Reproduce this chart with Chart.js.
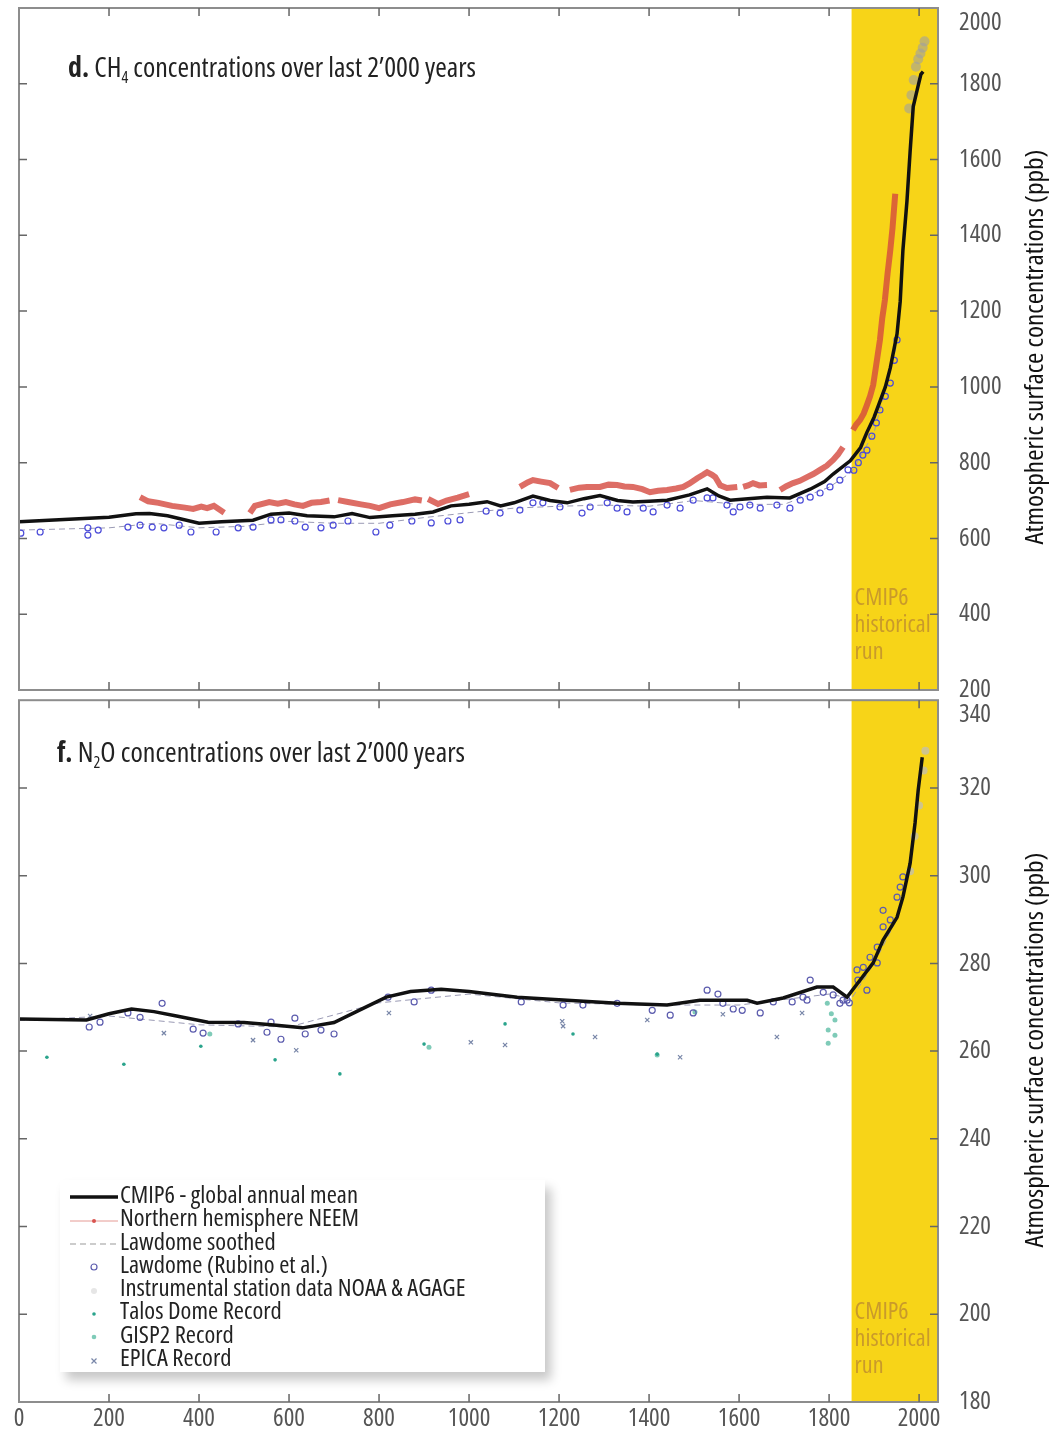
<!DOCTYPE html>
<html>
<head>
<meta charset="utf-8">
<script src="https://cdn.jsdelivr.net/npm/chart.js@4.4.0/dist/chart.umd.min.js"></script>
<style>
  body { margin: 0; background: #fff; width: 1062px; height: 1433px; position: relative; overflow: hidden; }
  #c1 { position: absolute; left: 0; top: 0; }
  #c2 { position: absolute; left: 0; top: 695px; }
  #legend { position: absolute; left: 60px; top: 1180px; width: 485px; height: 192px; background: #fff;
            box-shadow: 6px 8px 10px rgba(0,0,0,0.22); box-sizing: border-box; padding-top: 2px; }
  #legend .row { height: 23.3px; line-height: 23.3px; white-space: nowrap; font-size: 24px; color: #222; }
  #legend svg { vertical-align: middle; margin-left: 10px; margin-right: 2px; }
  #legend span { display: inline-block; transform-origin: 0 50%; }
</style>
</head>
<body>
<canvas id="c1" width="1062" height="715"></canvas>
<canvas id="c2" width="1062" height="738"></canvas>
<div id="legend"></div>
<script>
var FAMILY = '"Open Sans", "Liberation Sans", sans-serif'

// does the installed font stretch? (variable width axis)
var tc = document.createElement('canvas').getContext('2d')
tc.font = '24px ' + FAMILY
var w0 = tc.measureText('Atmospheric 2000').width
tc.font = 'condensed 24px ' + FAMILY
var w1 = tc.measureText('Atmospheric 2000').width
var STRETCH = w1 < w0 * 0.93
var PRE = STRETCH ? 'condensed ' : ''

// axes
var xTicks = [0, 200, 400, 600, 800, 1000, 1200, 1400, 1600, 1800, 2000]
var ch4Ticks = [200, 400, 600, 800, 1000, 1200, 1400, 1600, 1800, 2000]
var n2oTicks = [180, 200, 220, 240, 260, 280, 300, 320, 340]
var bandStart = 1850

// CH4 - CMIP6 global annual mean
var ch4Years = [0, 100, 200, 260, 290, 330, 400, 450, 520, 560, 600, 640, 700, 740, 780, 830, 880, 920, 960, 1000,
  1040, 1070, 1100, 1142, 1180, 1218, 1255, 1291, 1330, 1364, 1400, 1440, 1490, 1529, 1555, 1580, 1620, 1662, 1713,
  1758, 1790, 1809, 1847, 1870, 1884, 1900, 1913, 1925, 1936, 1951, 1958, 1964, 1973, 1980, 1987, 1996, 2004, 2009]
var ch4Vals = [644, 650, 656, 665, 666, 660, 640, 644, 648, 664, 667, 660, 657, 666, 655, 660, 664, 670, 686, 690,
  697, 686, 694, 712, 700, 694, 705, 713, 700, 696, 698, 701, 715, 731, 712, 701, 705, 709, 707,
  730, 750, 770, 805, 840, 880, 920, 962, 1000, 1050, 1140, 1225, 1360, 1490, 1620, 1740, 1785, 1825, 1832]

// CH4 - Northern hemisphere NEEM (null = gap in record)
var neemYears = [269, 287, 310, 340, 365, 387, 405, 418, 433, 456, 480,
  513, 524, 556, 575, 593, 612, 631, 650, 671, 690, 700,
  709, 731, 760, 780, 800, 825, 853, 880, 895, 902,
  909, 931, 950, 975, 1000, 1050,
  1113, 1130, 1142, 1160, 1180, 1198, 1210,
  1224, 1245, 1262, 1291, 1310, 1329, 1345, 1364, 1385, 1402, 1420, 1440, 1460, 1476, 1490, 1507, 1520, 1529, 1540, 1547, 1558, 1573, 1596, 1603,
  1609, 1620, 1631, 1645, 1662, 1675,
  1691, 1705, 1720, 1735, 1751, 1765, 1780, 1795, 1809, 1820, 1831, 1842,
  1853, 1860, 1869, 1877, 1884, 1891, 1898, 1905, 1913, 1918, 1924, 1930, 1936, 1941, 1947]
var neemVals = [709, 698, 694, 686, 682, 678, 684, 680, 686, 668, null,
  667, 686, 696, 692, 696, 690, 686, 694, 696, 700, null,
  701, 696, 690, 686, 680, 690, 696, 703, 700, null,
  704, 691, 700, 708, 717, null,
  736, 748, 754, 750, 746, 733, null,
  728, 734, 736, 736, 742, 741, 737, 736, 730, 722, 726, 728, 732, 736, 745, 759, 768, 775, 768, 762, 740, 733, 736, null,
  736, 740, 746, 740, 741, null,
  728, 738, 746, 752, 762, 770, 781, 792, 807, 822, 841, null,
  886, 900, 913, 930, 952, 975, 1005, 1060, 1124, 1180, 1229, 1300, 1361, 1420, 1510]

// CH4 - Lawdome (Rubino et al.)
var lawCh4Years = [4, 47, 153, 153, 176, 242, 269, 296, 322, 356, 382, 438, 487, 520, 560, 582, 613, 636, 671, 698,
  731, 793, 824, 873, 916, 953, 980, 1038, 1069, 1113, 1142, 1164, 1202, 1251, 1269, 1307, 1329, 1351, 1387, 1409,
  1440, 1469, 1498, 1529, 1542, 1573, 1587, 1602, 1624, 1647, 1684, 1713, 1736, 1758, 1780, 1802, 1824, 1842,
  1855, 1865, 1875, 1884, 1895, 1905, 1913, 1925, 1936, 1945, 1951]
var lawCh4Vals = [614, 617, 628, 609, 622, 630, 635, 630, 628, 635, 617, 617, 628, 630, 649, 649, 646, 630, 628, 635,
  646, 617, 635, 646, 641, 646, 649, 672, 667, 675, 694, 694, 683, 667, 683, 694, 680, 670, 680, 670,
  688, 680, 701, 707, 707, 688, 670, 683, 688, 680, 688, 680, 701, 709, 720, 736, 754, 781,
  780, 800, 820, 833, 870, 905, 939, 975, 1010, 1070, 1124]

// CH4 - Lawdome smoothed
var lawSmCh4Years = [0, 200, 300, 400, 500, 600, 700, 800, 900, 1000, 1100, 1200, 1300, 1400, 1500, 1600, 1700, 1800, 1850, 1900, 1950]
var lawSmCh4Vals = [622, 628, 640, 628, 632, 645, 640, 640, 655, 668, 680, 685, 688, 685, 700, 690, 690, 735, 775, 880, 1110]

// CH4 - Instrumental station data NOAA & AGAGE
var instCh4Years = [1978, 1983, 1988, 1993, 1998, 2003, 2008, 2012]
var instCh4Vals = [1735, 1770, 1810, 1845, 1865, 1880, 1895, 1912]

// N2O - CMIP6 global annual mean
var n2oYears = [0, 150, 200, 250, 300, 350, 420, 500, 560, 630, 700, 760, 816, 870, 938, 1000, 1107, 1218, 1329, 1440,
  1513, 1618, 1640, 1698, 1773, 1809, 1840, 1869, 1898, 1920, 1951, 1964, 1980, 1991, 1998, 2007]
var n2oVals = [267.3, 267.1, 268.5, 269.6, 269.0, 268.0, 266.6, 266.5, 266.0, 265.3, 266.5, 269.5, 272.3, 273.6, 274.1, 273.6, 272.3, 271.6, 270.9, 270.5,
  271.6, 271.6, 270.9, 272.1, 274.6, 274.6, 272.3, 276.2, 280.1, 285.3, 290.5, 295.1, 302.8, 312.0, 319.5, 327.0]

// N2O - Lawdome (Rubino et al.)
var lawN2oYears = [156, 180, 242, 269, 318, 387, 409, 487, 551, 560, 582, 613, 636, 671, 700, 820, 878, 916, 1116,
  1209, 1253, 1329, 1407, 1447, 1498, 1529, 1553, 1564, 1587, 1607, 1647, 1676, 1718, 1742, 1758, 1751, 1787, 1809, 1824,
  1831, 1840, 1845, 1862, 1864, 1876, 1884, 1891, 1907, 1907, 1920, 1920, 1936, 1951, 1958, 1964]
var lawN2oVals = [265.5, 266.6, 268.7, 267.7, 270.9, 265.0, 264.1, 266.2, 264.3, 266.6, 262.7, 267.5, 263.9, 264.8, 263.9, 272.3, 271.2, 273.9, 271.2,
  270.5, 270.5, 270.9, 269.3, 268.2, 268.7, 273.9, 273.0, 270.9, 269.6, 269.3, 268.7, 271.2, 271.2, 272.3, 276.2, 271.6, 273.4, 272.8, 270.9,
  271.6, 271.6, 271.0, 278.5, 276.2, 279.1, 273.9, 281.4, 283.7, 280.1, 292.1, 288.3, 289.9, 295.1, 297.4, 299.7]

// N2O - Lawdome smoothed
var lawSmN2oYears = [0, 200, 400, 600, 800, 1000, 1200, 1400, 1600, 1800, 1850, 1900, 1950, 1970]
var lawSmN2oVals = [267, 268, 266, 265.5, 271, 273, 271, 270.5, 270.5, 273, 272, 280, 290, 297]

// N2O - Instrumental station data NOAA & AGAGE
var instN2oYears = [1980, 1990, 2000, 2010, 2014]
var instN2oVals = [301, 309, 316, 324, 328.5]

// N2O - Talos Dome record
var talosYears = [62, 233, 404, 569, 713, 900, 1080, 1231, 1418]
var talosVals = [258.6, 257.0, 261.1, 258.0, 254.8, 261.6, 266.2, 263.9, 259.3]

// N2O - GISP2 record
var gispYears = [424, 911, 1418, 1502, 1796, 1805, 1813, 1798, 1813, 1798]
var gispVals = [263.9, 260.9, 259.1, 268.9, 270.9, 268.5, 267.1, 264.8, 263.6, 261.8]

// N2O - EPICA record
var epicaYears = [158, 322, 520, 616, 822, 1004, 1080, 1207, 1209, 1280, 1396, 1469, 1564, 1684, 1740]
var epicaVals = [268.0, 264.1, 262.5, 260.2, 268.7, 262.0, 261.4, 266.8, 265.7, 263.2, 267.1, 258.6, 268.4, 263.2, 268.7]

var legendLabels = ['CMIP6 - global annual mean', 'Northern hemisphere NEEM', 'Lawdome soothed', 'Lawdome (Rubino et al.)',
  'Instrumental station data NOAA & AGAGE', 'Talos Dome Record', 'GISP2 Record', 'EPICA Record']

function pts(xs, ys) {
  return xs.map(function (x, i) { return { x: x, y: ys[i] } })
}

// draw text squeezed to the width of the condensed face in the original
function squeeze(ctx, text, x, y, sx) {
  ctx.save()
  ctx.translate(x, y)
  ctx.scale(sx, 1)
  ctx.fillText(text, 0, 0)
  ctx.restore()
}
function fitScale(ctx, text, target) {
  return Math.min(1.2, target / ctx.measureText(text).width)
}

// band, frame, inward ticks, titles
var panelDecor = {
  id: 'panelDecor',
  beforeDatasetsDraw: function (chart) {
    var a = chart.chartArea, ctx = chart.ctx
    var x0 = chart.scales.x.getPixelForValue(bandStart)
    ctx.save()
    ctx.fillStyle = '#f7d418'
    ctx.fillRect(x0, a.top, a.right - x0, a.bottom - a.top)
    ctx.restore()
  },
  afterDraw: function (chart, args, o) {
    var a = chart.chartArea, ctx = chart.ctx
    var xs = chart.scales.x, ys = chart.scales.y
    ctx.save()
    // band text
    ctx.fillStyle = '#c99a2b'
    ctx.font = PRE + '24px ' + FAMILY
    ctx.textBaseline = 'middle'
    var bx = xs.getPixelForValue(bandStart) + 3
    var bs = fitScale(ctx, 'historical', 76)
    ;['CMIP6', 'historical', 'run'].forEach(function (t, i) {
      squeeze(ctx, t, bx, o.bandTextY + i * 27, bs)
    })
    // frame
    ctx.strokeStyle = '#8d8d8d'
    ctx.lineWidth = 2
    ctx.strokeRect(a.left, a.top, a.right - a.left, a.bottom - a.top)
    ctx.strokeStyle = '#666'
    ctx.lineWidth = 1.5
    ctx.beginPath()
    xTicks.forEach(function (v) {
      var p = xs.getPixelForValue(v)
      if (p <= a.left + 1) return
      ctx.moveTo(p, a.top); ctx.lineTo(p, a.top + 8)
      ctx.moveTo(p, a.bottom); ctx.lineTo(p, a.bottom - 8)
    })
    o.yTicks.forEach(function (v) {
      var p = ys.getPixelForValue(v)
      if (p <= a.top + 1 || p >= a.bottom - 1) return
      ctx.moveTo(a.left, p); ctx.lineTo(a.left + 8, p)
      ctx.moveTo(a.right, p); ctx.lineTo(a.right - 8, p)
    })
    ctx.stroke()
    // panel title, squeezed to the original width
    ctx.fillStyle = '#222'
    ctx.textBaseline = 'alphabetic'
    var total = 0
    function titleFont(part) {
      return part.sub ? PRE + '16px ' + FAMILY : (part.b ? 'bold ' : '') + PRE + '28px ' + FAMILY
    }
    o.title.forEach(function (part) {
      ctx.font = titleFont(part)
      part.w = ctx.measureText(part.t).width
      total += part.w
    })
    var ts = Math.min(1.2, o.titleW / total)
    var x = o.titleX, y = o.titleY
    o.title.forEach(function (part) {
      ctx.font = titleFont(part)
      squeeze(ctx, part.t, x, part.sub ? y + 6 : y, ts)
      x += part.w * ts
    })
    // y axis title, reads bottom to top
    var yt = 'Atmospheric surface concentrations (ppb)'
    ctx.font = PRE + '26px ' + FAMILY
    var ys2 = fitScale(ctx, yt, 395)
    ctx.translate(1036, o.yTitleY)
    ctx.rotate(-Math.PI / 2)
    ctx.scale(ys2, 1)
    ctx.textAlign = 'center'
    ctx.textBaseline = 'middle'
    ctx.fillStyle = '#111'
    ctx.fillText(yt, 0, 0)
    ctx.restore()
  }
}

var tickFont = STRETCH ? { family: FAMILY, size: 25, weight: '400 condensed' } : { family: FAMILY, size: 20 }

function yScale(min, max, ticks) {
  return {
    type: 'linear', position: 'right', min: min, max: max,
    grid: { display: false, drawTicks: false }, border: { display: false },
    afterBuildTicks: function (s) { s.ticks = ticks.map(function (v) { return { value: v } }) },
    afterFit: function (s) { s.width = 124; s.paddingTop = 0; s.paddingBottom = 0 },
    ticks: {
      padding: 21, color: '#555', font: tickFont,
      callback: function (v) { return v === max ? ['', String(v)] : String(v) }
    }
  }
}

Chart.defaults.animation = false
Chart.defaults.events = []

var ch1 = new Chart(document.getElementById('c1'), {
  type: 'scatter',
  data: {
    datasets: [
      { label: legendLabels[0], data: pts(ch4Years, ch4Vals), showLine: true, borderColor: '#111', borderWidth: 3.5, pointRadius: 0 },
      { label: legendLabels[3], data: pts(lawCh4Years, lawCh4Vals), pointRadius: 3, borderColor: '#4c4cd8', borderWidth: 1.2, backgroundColor: 'rgba(0,0,0,0)' },
      { label: legendLabels[4], data: pts(instCh4Years, instCh4Vals), pointRadius: 5, borderWidth: 0, backgroundColor: 'rgba(160,160,160,0.6)' },
      { label: legendLabels[1], data: pts(neemYears, neemVals), showLine: true, spanGaps: false, borderColor: 'rgba(212,72,62,0.8)', borderWidth: 6, pointRadius: 0 },
      { label: legendLabels[2], data: pts(lawSmCh4Years, lawSmCh4Vals), showLine: true, borderColor: '#9a9ab4', borderWidth: 1, borderDash: [6, 4], pointRadius: 0 }
    ]
  },
  options: {
    responsive: false,
    layout: { padding: { left: 19, top: 8, right: 0, bottom: 25 } },
    scales: {
      x: { type: 'linear', min: 0, max: 2042, display: false },
      y: yScale(200, 2000, ch4Ticks)
    },
    plugins: {
      legend: { display: false }, tooltip: { enabled: false },
      panelDecor: {
        yTicks: ch4Ticks, bandTextY: 598, titleX: 68, titleY: 77, titleW: 408, yTitleY: 347,
        title: [{ t: 'd.', b: true }, { t: ' CH' }, { t: '4', sub: true }, { t: ' concentrations over last 2’000 years' }]
      }
    }
  },
  plugins: [panelDecor]
})

var ch2 = new Chart(document.getElementById('c2'), {
  type: 'scatter',
  data: {
    datasets: [
      { label: legendLabels[0], data: pts(n2oYears, n2oVals), showLine: true, borderColor: '#111', borderWidth: 3.5, pointRadius: 0 },
      { label: legendLabels[3], data: pts(lawN2oYears, lawN2oVals), pointRadius: 3, borderColor: '#5c5cae', borderWidth: 1.2, backgroundColor: 'rgba(0,0,0,0)' },
      { label: legendLabels[4], data: pts(instN2oYears, instN2oVals), pointRadius: 4, borderWidth: 0, backgroundColor: 'rgba(190,190,190,0.7)' },
      { label: legendLabels[5], data: pts(talosYears, talosVals), pointRadius: 1.8, borderWidth: 0, backgroundColor: '#2aa48c' },
      { label: legendLabels[6], data: pts(gispYears, gispVals), pointRadius: 2.5, borderWidth: 0, backgroundColor: '#7fcbb8' },
      { label: legendLabels[7], data: pts(epicaYears, epicaVals), pointStyle: 'crossRot', pointRadius: 3, borderColor: '#7886a8', borderWidth: 1.2 },
      { label: legendLabels[2], data: pts(lawSmN2oYears, lawSmN2oVals), showLine: true, borderColor: '#9a9ab4', borderWidth: 1, borderDash: [6, 4], pointRadius: 0 }
    ]
  },
  options: {
    responsive: false,
    layout: { padding: { left: 19, top: 5, right: 0, bottom: 0 } },
    scales: {
      x: {
        type: 'linear', min: 0, max: 2042, position: 'bottom',
        grid: { display: false, drawTicks: false }, border: { display: false },
        afterBuildTicks: function (s) { s.ticks = xTicks.map(function (v) { return { value: v } }) },
        afterFit: function (s) { s.height = 31; s.paddingLeft = 0; s.paddingRight = 0 },
        ticks: { padding: 2, color: '#555', maxRotation: 0, autoSkip: false, font: tickFont,
                 callback: function (v) { return String(v) } }
      },
      y: yScale(180, 340, n2oTicks)
    },
    plugins: {
      legend: { display: false }, tooltip: { enabled: false },
      panelDecor: {
        yTicks: n2oTicks, bandTextY: 617, titleX: 57, titleY: 67, titleW: 408, yTitleY: 355,
        title: [{ t: 'f.', b: true }, { t: ' N' }, { t: '2', sub: true }, { t: 'O concentrations over last 2’000 years' }]
      }
    }
  },
  plugins: [panelDecor]
})

// legend box
var markers = [
  '<line x1="0" y1="10" x2="48" y2="10" stroke="#111" stroke-width="3.5"/>',
  '<line x1="0" y1="10" x2="48" y2="10" stroke="#e59a94" stroke-width="1"/><circle cx="24" cy="10" r="2" fill="#d9534f"/>',
  '<line x1="0" y1="10" x2="48" y2="10" stroke="#999" stroke-width="1" stroke-dasharray="6,4"/>',
  '<circle cx="24" cy="10" r="3" fill="none" stroke="#5c5cae" stroke-width="1.2"/>',
  '<circle cx="24" cy="10" r="3" fill="#e6e6e6"/>',
  '<circle cx="24" cy="10" r="1.8" fill="#2aa48c"/>',
  '<circle cx="24" cy="10" r="2.3" fill="#7fcbb8"/>',
  '<path d="M21.5 7.5 L26.5 12.5 M26.5 7.5 L21.5 12.5" stroke="#7886a8" stroke-width="1.2"/>'
]
tc.font = PRE + '24px ' + FAMILY
var legScale = Math.min(1.2, 238 / tc.measureText(legendLabels[0]).width)
var leg = document.getElementById('legend')
legendLabels.forEach(function (t, i) {
  var row = document.createElement('div')
  row.className = 'row'
  row.innerHTML = '<svg width="48" height="20">' + markers[i] + '</svg>'
  var span = document.createElement('span')
  span.textContent = t
  span.style.fontFamily = FAMILY
  if (STRETCH) span.style.fontStretch = 'condensed'
  span.style.transform = 'scaleX(' + legScale + ')'
  row.appendChild(span)
  leg.appendChild(row)
})
</script>
</body>
</html>
